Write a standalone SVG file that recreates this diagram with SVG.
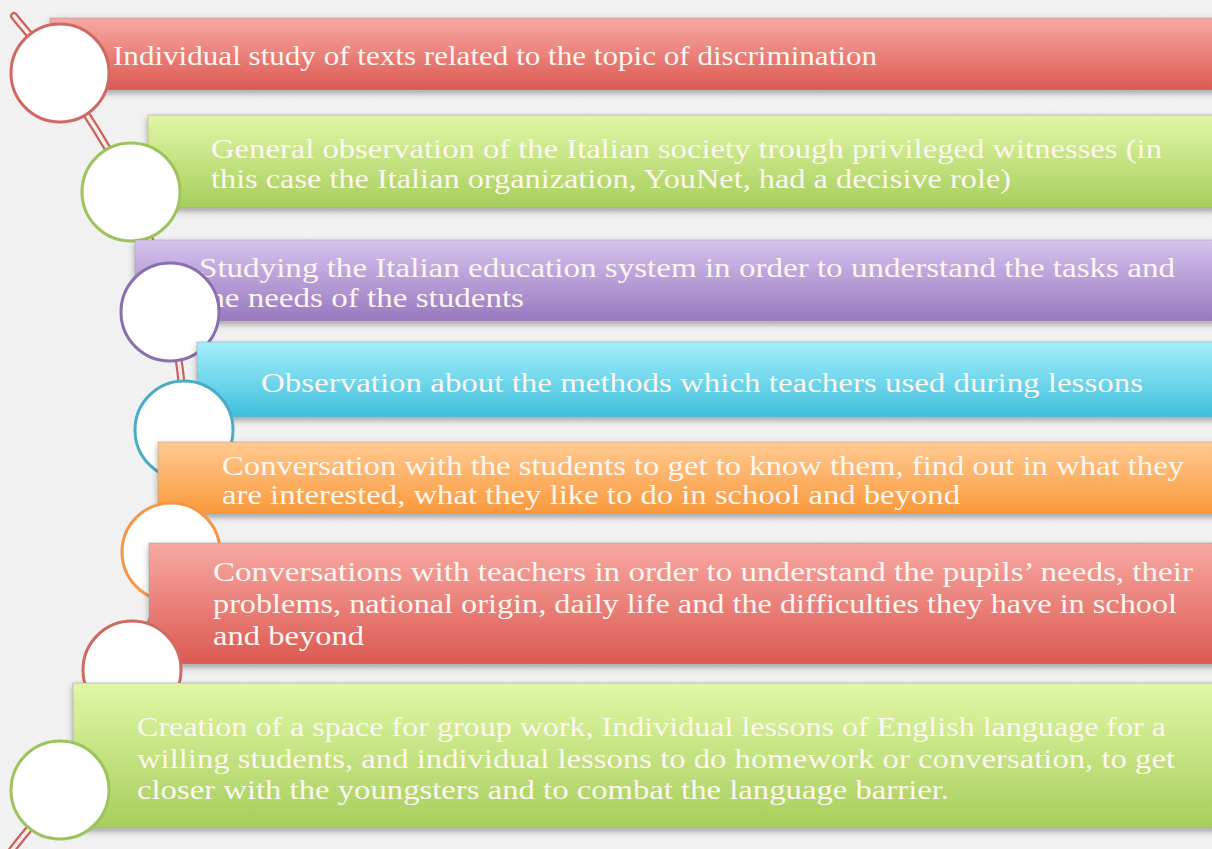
<svg xmlns="http://www.w3.org/2000/svg" width="1212" height="849" viewBox="0 0 1212 849">
<defs>
<linearGradient id="gRed" x1="0" y1="0" x2="0" y2="1"><stop offset="0" stop-color="#f9a9a3"/><stop offset="1" stop-color="#db5951"/></linearGradient>
<linearGradient id="gGreen" x1="0" y1="0" x2="0" y2="1"><stop offset="0" stop-color="#e1f7a6"/><stop offset="1" stop-color="#a7ce5c"/></linearGradient>
<linearGradient id="gPurple" x1="0" y1="0" x2="0" y2="1"><stop offset="0" stop-color="#d6c4ef"/><stop offset="1" stop-color="#9878bf"/></linearGradient>
<linearGradient id="gCyan" x1="0" y1="0" x2="0" y2="1"><stop offset="0" stop-color="#a4effc"/><stop offset="1" stop-color="#3fbfdc"/></linearGradient>
<linearGradient id="gOrange" x1="0" y1="0" x2="0" y2="1"><stop offset="0" stop-color="#ffca92"/><stop offset="1" stop-color="#f9993b"/></linearGradient>
<filter id="shadow" x="-5%" y="-20%" width="110%" height="150%"><feDropShadow dx="0" dy="3" stdDeviation="3" flood-color="#000" flood-opacity="0.35"/></filter>
<filter id="noise" x="0" y="0" width="100%" height="100%"><feTurbulence type="fractalNoise" baseFrequency="0.9" numOctaves="2" result="n"/><feColorMatrix in="n" type="matrix" values="0 0 0 0 0.5  0 0 0 0 0.5  0 0 0 0 0.5  0 0 0 0.06 0"/></filter>
<path id="spiralPath" d="M14,16 C20,24 38.5,44 59,73 C79.5,103.7 112.5,152.2 131,192 C149.5,231.8 161.2,272.3 170,312 C178.8,351.7 183.8,390 184,430 C184.2,470 179.7,512 171,552 C162.3,592 150.7,630.3 132,670 C113.3,709.7 79.7,759.7 59,790 C38.3,820.3 16.5,841.7 8,856"/>
</defs>
<style>
.box{stroke:#9a9a9a;stroke-opacity:0.5;stroke-width:1;filter:url(#shadow)}
.circ{fill:#ffffff;stroke-width:3}
.t{font-family:"Liberation Serif","DejaVu Serif",serif;font-size:27px;fill:#fdf6f1}
.pipeO{fill:none;stroke:#cc625b;stroke-width:8;stroke-linecap:round}
.pipeI{fill:none;stroke:#fbeeee;stroke-width:3.5;stroke-linecap:round}
</style>
<rect width="1212" height="849" fill="#f3f3f3"/>
<rect width="1212" height="849" filter="url(#noise)"/>
<g id="connectors">
<use href="#spiralPath" class="pipeO"/>
<use href="#spiralPath" class="pipeI"/>
</g>
<g id="node1">
<rect class="box" x="50" y="18" width="1170" height="72" fill="url(#gRed)"/>
<text class="t" x="113" y="65" textLength="764" lengthAdjust="spacingAndGlyphs">Individual study of texts related to the topic of discrimination</text>
<circle class="circ" cx="60" cy="73" r="49" stroke="#cf6a63"/>
</g>
<g id="node2">
<rect class="box" x="148" y="115" width="1070" height="93" fill="url(#gGreen)"/>
<text class="t" x="211" y="158" textLength="951" lengthAdjust="spacingAndGlyphs">General observation of the Italian society trough privileged witnesses (in</text>
<text class="t" x="211" y="188" textLength="800" lengthAdjust="spacingAndGlyphs">this case the Italian organization, YouNet, had a decisive role)</text>
<circle class="circ" cx="131" cy="192" r="49" stroke="#9dc35c"/>
</g>
<g id="node3">
<rect class="box" x="135" y="240" width="1085" height="81" fill="url(#gPurple)"/>
<text class="t" x="199" y="277" textLength="976" lengthAdjust="spacingAndGlyphs">Studying the Italian education system in order to understand the tasks and</text>
<text class="t" x="199" y="307" textLength="325" lengthAdjust="spacingAndGlyphs">the needs of the students</text>
<circle class="circ" cx="170" cy="312" r="49" stroke="#8a6fae"/>
</g>
<g id="node4">
<rect class="box" x="197" y="342" width="1023" height="75" fill="url(#gCyan)"/>
<text class="t" x="261" y="392" textLength="882" lengthAdjust="spacingAndGlyphs">Observation about the methods which teachers used during lessons</text>
<circle class="circ" cx="184" cy="430" r="49" stroke="#4aacc5"/>
</g>
<g id="node5">
<rect class="box" x="158" y="442" width="1062" height="72" fill="url(#gOrange)"/>
<text class="t" x="222" y="475" textLength="962" lengthAdjust="spacingAndGlyphs">Conversation with the students to get to know them, find out in what they</text>
<text class="t" x="222" y="504" textLength="738" lengthAdjust="spacingAndGlyphs">are interested, what they like to do in school and beyond</text>
<circle class="circ" cx="171" cy="552" r="49" stroke="#f79646"/>
</g>
<g id="node6">
<rect class="box" x="149" y="543" width="1071" height="121" fill="url(#gRed)"/>
<text class="t" x="213" y="581" textLength="980" lengthAdjust="spacingAndGlyphs">Conversations with teachers in order to understand the pupils’ needs, their</text>
<text class="t" x="213" y="613" textLength="964" lengthAdjust="spacingAndGlyphs">problems, national origin, daily life and the difficulties they have in school</text>
<text class="t" x="213" y="645" textLength="151" lengthAdjust="spacingAndGlyphs">and beyond</text>
<circle class="circ" cx="132" cy="670" r="49" stroke="#cf6a63"/>
</g>
<g id="node7">
<rect class="box" x="73" y="683" width="1147" height="145" fill="url(#gGreen)"/>
<text class="t" x="137" y="736" textLength="1029" lengthAdjust="spacingAndGlyphs">Creation of a space for group work, Individual lessons of English language for a</text>
<text class="t" x="137" y="768" textLength="1038" lengthAdjust="spacingAndGlyphs">willing students, and individual lessons to do homework or conversation, to get</text>
<text class="t" x="137" y="799" textLength="812" lengthAdjust="spacingAndGlyphs">closer with the youngsters and to combat the language barrier.</text>
<circle class="circ" cx="60" cy="790" r="49" stroke="#9dc35c"/>
</g>
</svg>
